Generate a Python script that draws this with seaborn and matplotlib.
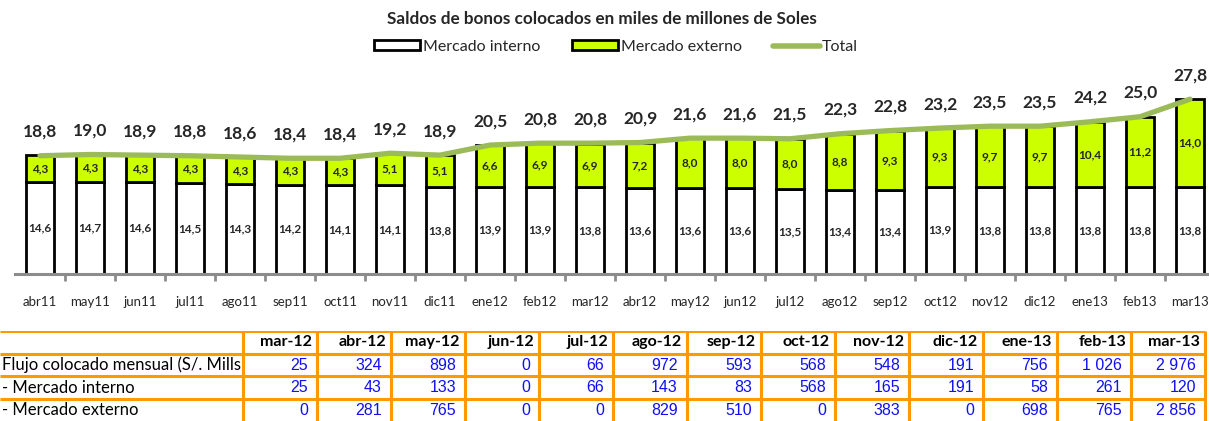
import numpy as np
import pandas as pd
import matplotlib
matplotlib.use("Agg")
import matplotlib.pyplot as plt
import seaborn as sns
from matplotlib.patches import Patch
from matplotlib.lines import Line2D

# ---------------- data ----------------
months = ["abr11", "may11", "jun11", "jul11", "ago11", "sep11", "oct11", "nov11",
          "dic11", "ene12", "feb12", "mar12", "abr12", "may12", "jun12", "jul12",
          "ago12", "sep12", "oct12", "nov12", "dic12", "ene13", "feb13", "mar13"]
interno = [14.6, 14.7, 14.6, 14.5, 14.3, 14.2, 14.1, 14.1, 13.8, 13.9, 13.9, 13.8,
           13.6, 13.6, 13.6, 13.5, 13.4, 13.4, 13.9, 13.8, 13.8, 13.8, 13.8, 13.8]
externo = [4.3, 4.3, 4.3, 4.3, 4.3, 4.3, 4.3, 5.1, 5.1, 6.6, 6.9, 6.9,
           7.2, 8.0, 8.0, 8.0, 8.8, 9.3, 9.3, 9.7, 9.7, 10.4, 11.2, 14.0]
total = [18.8, 19.0, 18.9, 18.8, 18.6, 18.4, 18.4, 19.2, 18.9, 20.5, 20.8, 20.8,
         20.9, 21.6, 21.6, 21.5, 22.3, 22.8, 23.2, 23.5, 23.5, 24.2, 25.0, 27.8]

table_cols = ["mar-12", "abr-12", "may-12", "jun-12", "jul-12", "ago-12", "sep-12",
              "oct-12", "nov-12", "dic-12", "ene-13", "feb-13", "mar-13"]
row_labels = ["Flujo colocado mensual (S/. Mills", "- Mercado interno", "- Mercado externo"]
flujo = ["25", "324", "898", "0", "66", "972", "593", "568", "548", "191", "756", "1 026", "2 976"]
flujo_int = ["25", "43", "133", "0", "66", "143", "83", "568", "165", "191", "58", "261", "120"]
flujo_ext = ["0", "281", "765", "0", "0", "829", "510", "0", "383", "0", "698", "765", "2 856"]

title = "Saldos de bonos colocados en miles de millones de Soles"

# ---------------- style ----------------
sns.set_theme(style="white")
plt.rcParams["font.family"] = ["Lato", "DejaVu Sans"]

LIME = "#CCFF00"
LINEG = "#9BBB59"
ORANGE = "#FF9900"
BLUE = "#1010F0"

W, H = 1209, 421
fig = plt.figure(figsize=(W / 100, H / 100), dpi=100)

def frac(px_left, px_top, px_w, px_h):
    return [px_left / W, 1 - (px_top + px_h) / H, px_w / W, px_h / H]

# chart axes: baseline at y=274 px, 6.29 px per unit
base_y = 274
top_px = 60
ax = fig.add_axes(frac(15, top_px, W - 15, base_y - top_px))
ymax = (base_y - top_px) / 6.29

df = pd.DataFrame({"mes": months, "interno": interno, "externo": externo, "total": total})

sns.barplot(data=df, x="mes", y="interno", color="white", edgecolor="black",
            linewidth=2.0, width=0.56, saturation=1, ax=ax, zorder=2)
sns.barplot(data=df, x="mes", y="externo", bottom=df["interno"].to_numpy(), color=LIME,
            edgecolor="black", linewidth=2.0, width=0.56, saturation=1, ax=ax, zorder=2)

pos = np.arange(len(months))
sns.lineplot(x=pos, y=df["total"], color=LINEG, linewidth=3.8, ax=ax, zorder=3,
             solid_capstyle="round")

for i in range(len(months)):
    ax.text(pos[i], interno[i] / 2, f"{interno[i]:.1f}".replace(".", ","),
            ha="center", va="center", fontsize=8.5, fontweight="bold", zorder=4)
    ax.text(pos[i], interno[i] + externo[i] / 2, f"{externo[i]:.1f}".replace(".", ","),
            ha="center", va="center", fontsize=8.5, fontweight="bold", zorder=4)
    ax.text(pos[i], total[i] + 3.8, f"{total[i]:.1f}".replace(".", ","),
            ha="center", va="center", fontsize=12.5, fontweight="bold", zorder=4)

ax.set_xlim(-0.5, (W - 40) / 50.0)
ax.set_ylim(0, ymax)
ax.set_xlabel("")
ax.set_ylabel("")
ax.set_yticks([])
for s in ["top", "right", "left"]:
    ax.spines[s].set_visible(False)
ax.spines["bottom"].set_color("#8C8C8C")
ax.spines["bottom"].set_linewidth(2.2)
ax.set_xticks(pos)
ax.set_xticklabels(months, fontsize=9.5)
ax.tick_params(axis="x", which="major", length=0, pad=16)
ax.set_xticks(pos[:-1] + 0.5, minor=True)
ax.tick_params(axis="x", which="minor", bottom=True, length=5, width=2,
               color="#8C8C8C", direction="out")
ax.grid(False)

# title and legend
fig.text(602 / W, 1 - 19 / H, title, ha="center", va="center", fontsize=12.3,
         fontweight="bold")
handles = [Patch(facecolor="white", edgecolor="black", linewidth=2),
           Patch(facecolor=LIME, edgecolor="black", linewidth=2),
           Line2D([0], [0], color=LINEG, linewidth=4)]
fig.legend(handles, ["Mercado interno", "Mercado externo", "Total"],
           loc="center", bbox_to_anchor=(616 / W, 1 - 47 / H), ncol=3, frameon=False,
           fontsize=11.5, handlelength=2.9, handleheight=0.6, handletextpad=0.15,
           columnspacing=2.0, borderpad=0)

# ---------------- table ----------------
tab_top = 331
row_h = 22.7
tax = fig.add_axes([0, 0, 1, 1 - tab_top / H])
tax.set_xlim(0, W)
tax.set_ylim(H - tab_top, 0)
tax.axis("off")
label_w = 243
col_w = 74
n_rows = 4
right_edge = label_w + col_w * len(table_cols)
for r in range(n_rows):
    tax.plot([0, right_edge], [r * row_h, r * row_h], color=ORANGE, linewidth=2.2,
             solid_capstyle="butt")
for c in range(len(table_cols) + 1):
    x = label_w + c * col_w
    tax.plot([x, x], [0, n_rows * row_h + 5], color=ORANGE, linewidth=2.2,
             solid_capstyle="butt")

for c, name in enumerate(table_cols):
    xr = label_w + (c + 1) * col_w - 5
    tax.text(xr, row_h * 0.5, name, ha="right", va="center", fontsize=11.5,
             fontweight="bold", color="black")
rows_vals = [flujo, flujo_int, flujo_ext]
for r, (lab, vals) in enumerate(zip(row_labels, rows_vals)):
    yc = row_h * (r + 1.5)
    tax.text(2, yc, lab, ha="left", va="center", fontsize=12, color="black")
    for c, v in enumerate(vals):
        xr = label_w + (c + 1) * col_w - 9
        tax.text(xr, yc, v, ha="right", va="center", fontsize=11.5, color=BLUE,
                 family=["Liberation Sans", "DejaVu Sans"])

fig.savefig("out.png", dpi=100)
